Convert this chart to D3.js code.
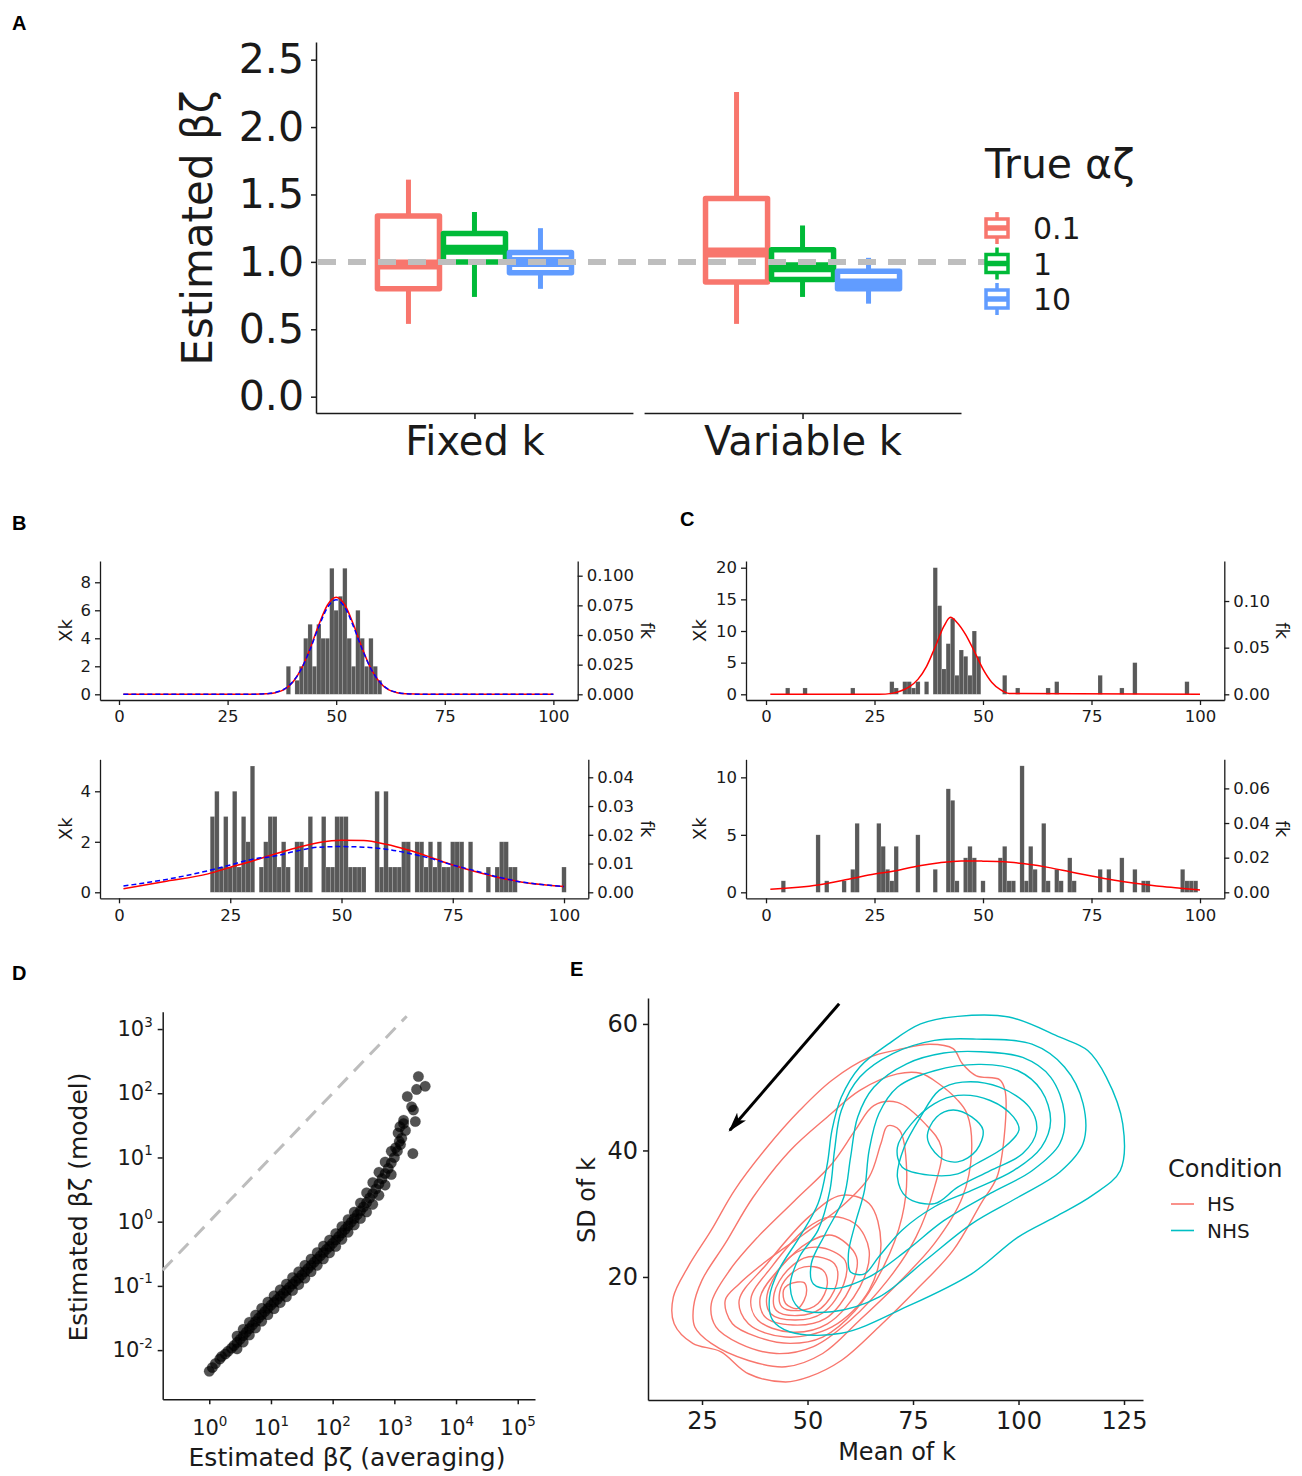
<!DOCTYPE html>
<html><head><meta charset="utf-8">
<script src="https://cdn.jsdelivr.net/npm/d3@7/dist/d3.min.js"></script>
<style>
html,body{margin:0;padding:0;background:#fff;}
svg{display:block;font-family:"DejaVu Sans",sans-serif;}
</style></head>
<body>
<svg id="fig" width="1302" height="1476" xmlns="http://www.w3.org/2000/svg"></svg>
<script>
// ================= DATA =================
// Panel A: boxplots
const boxCategories = ["Fixed k", "Variable k"];
const alphaGroups = ["0.1", "1", "10"];
const boxCategoryOf = ["Fixed k", "Fixed k", "Fixed k", "Variable k", "Variable k", "Variable k"];
const boxGroupOf = ["0.1", "1", "10", "0.1", "1", "10"];
const boxWhiskerLow  = [0.54, 0.74, 0.80, 0.54, 0.74, 0.69];
const boxQ1          = [0.80, 1.00, 0.92, 0.85, 0.87, 0.80];
const boxMedian      = [0.98, 1.09, 1.00, 1.07, 0.96, 0.84];
const boxQ3          = [1.34, 1.21, 1.07, 1.47, 1.09, 0.93];
const boxWhiskerHigh = [1.61, 1.37, 1.25, 2.26, 1.27, 1.03];
const boxYTicks = [0, 0.5, 1, 1.5, 2, 2.5];
const boxReference = 1.0;

// Panels B / C: histograms of Xk with fitted fk curves
const histXTicks = [0, 25, 50, 75, 100];
const bTopK      = [39, 41, 42, 43, 44, 45, 46, 47, 48, 49, 50, 51, 52, 53, 54, 55, 56, 57, 58, 59, 60];
const bTopCount  = [2, 1, 2, 4, 5, 2, 5, 4, 4, 9, 6, 7, 9, 4, 2, 6, 4, 2, 4, 2, 1];
const bTopCurveK = [1, 30, 34, 36, 38, 40, 42, 44, 46, 48, 50, 52, 54, 56, 58, 60, 62, 64, 66, 70, 100];
const bTopRedF   = [0, 0, 0.0004, 0.0014, 0.004, 0.0102, 0.0216, 0.0386, 0.0586, 0.0753, 0.0818, 0.0753, 0.0586, 0.0386, 0.0216, 0.0102, 0.004, 0.0014, 0.0004, 0, 0];
const bTopBlueF  = [0, 0, 0.0005, 0.0016, 0.0043, 0.0105, 0.0215, 0.038, 0.057, 0.0732, 0.0797, 0.0732, 0.057, 0.038, 0.0215, 0.0105, 0.0043, 0.0016, 0.0005, 0, 0];

const bBotK      = [21, 22, 23, 24, 25, 26, 27, 28, 29, 30, 32, 33, 34, 35, 36, 37, 38, 40, 41, 42, 43, 46, 47, 48, 49, 50, 51, 52, 53, 54, 55, 58, 59, 60, 61, 62, 63, 64, 65, 67, 68, 69, 70, 71, 72, 73, 74, 75, 76, 77, 79, 83, 85, 86, 87, 88, 89, 100];
const bBotCount  = [3, 4, 1, 3, 1, 4, 1, 3, 2, 5, 1, 2, 3, 3, 1, 2, 1, 2, 2, 1, 3, 3, 1, 1, 3, 3, 3, 1, 1, 1, 1, 4, 1, 4, 1, 1, 1, 2, 2, 2, 2, 1, 2, 1, 2, 1, 1, 2, 2, 2, 2, 1, 1, 2, 2, 1, 1, 1];
const bBotCurveK = [1, 10, 20, 25, 30, 35, 40, 45, 50, 55, 60, 65, 70, 75, 80, 85, 90, 95, 100];
const bBotRedF   = [0.0012, 0.0037, 0.0064, 0.0087, 0.0109, 0.0133, 0.0155, 0.0173, 0.0181, 0.018, 0.0167, 0.0147, 0.0122, 0.0095, 0.0072, 0.0052, 0.0037, 0.0027, 0.002];
const bBotBlueF  = [0.0022, 0.0043, 0.0075, 0.0095, 0.0115, 0.0126, 0.0144, 0.0157, 0.0159, 0.0157, 0.015, 0.0136, 0.0118, 0.0095, 0.0075, 0.0054, 0.0037, 0.0027, 0.002];

const cTopK      = [5, 9, 20, 29, 30, 32, 33, 34, 35, 37, 39, 40, 41, 42, 43, 44, 45, 46, 47, 48, 49, 55, 58, 65, 67, 77, 82, 85, 97];
const cTopCount  = [1, 1, 1, 2, 1, 2, 2, 1, 2, 2, 20, 14, 4, 8, 12, 3, 7, 6, 3, 10, 6, 3, 1, 1, 2, 3, 1, 5, 2];
const cTopCurveK = [1, 26, 29, 31, 33, 35, 37, 39, 41, 42.5, 44, 46, 48, 50, 52, 54, 56, 100];
const cTopRedF   = [0, 0, 0.001, 0.0035, 0.008, 0.016, 0.030, 0.051, 0.073, 0.0825, 0.077, 0.064, 0.046, 0.027, 0.013, 0.005, 0.001, 0];

const cBotK      = [4, 12, 14, 18, 20, 21, 26, 27, 28, 29, 30, 35, 39, 42, 43, 44, 46, 47, 48, 50, 54, 55, 56, 57, 59, 60, 61, 62, 64, 65, 67, 68, 70, 71, 77, 79, 82, 85, 87, 88, 96, 97, 98, 99];
const cBotCount  = [1, 5, 1, 1, 2, 6, 6, 4, 2, 1, 4, 5, 2, 9, 8, 1, 3, 4, 3, 1, 3, 4, 1, 1, 11, 1, 4, 2, 6, 1, 2, 1, 3, 1, 2, 2, 3, 2, 1, 1, 2, 1, 1, 1];
const cBotCurveK = [1, 12, 20, 25, 30, 35, 40, 45, 50, 55, 60, 65, 70, 75, 80, 85, 90, 95, 100];
const cBotRedF   = [0.0017, 0.0042, 0.0081, 0.0106, 0.0125, 0.0152, 0.0171, 0.0181, 0.018, 0.0177, 0.0163, 0.0144, 0.0119, 0.0094, 0.0071, 0.0052, 0.0037, 0.0025, 0.0013];

// Panel D: scatter, values as [log10(averaging), log10(model)]
const dScatterLog10 = [
  // sparse lower end
  [0.00,-2.33],[0.05,-2.27],[0.10,-2.21],[0.17,-2.14],[0.20,-2.10],[0.26,-2.06],[0.30,-2.02],[0.36,-1.97],[0.40,-1.93],
  // band centre
  [0.45,-1.88],[0.50,-1.83],[0.55,-1.775],[0.60,-1.72],[0.65,-1.665],[0.70,-1.61],[0.75,-1.555],[0.80,-1.50],
  [0.85,-1.45],[0.90,-1.40],[0.95,-1.35],[1.00,-1.30],[1.05,-1.255],[1.10,-1.21],[1.15,-1.16],[1.20,-1.115],
  [1.25,-1.07],[1.30,-1.02],[1.35,-0.97],[1.40,-0.925],[1.45,-0.88],[1.50,-0.83],[1.55,-0.78],[1.60,-0.73],
  [1.65,-0.68],[1.70,-0.63],[1.75,-0.58],[1.80,-0.53],[1.85,-0.48],[1.90,-0.43],[1.95,-0.385],[2.00,-0.337],
  [2.05,-0.285],[2.10,-0.23],[2.15,-0.175],[2.20,-0.12],[2.25,-0.065],[2.30,-0.01],[2.35,0.05],[2.40,0.11],
  [2.45,0.17],[2.50,0.23],[2.55,0.30],[2.60,0.37],[2.65,0.44],[2.70,0.51],[2.75,0.59],[2.80,0.67],
  [2.85,0.75],[2.90,0.83],[2.95,0.915],[3.00,1.00],[3.05,1.10],[3.10,1.20],
  // band upper edge
  [0.45,-1.78],[0.55,-1.675],[0.65,-1.565],[0.75,-1.455],[0.85,-1.35],[0.95,-1.25],[1.05,-1.155],[1.15,-1.06],
  [1.25,-0.97],[1.35,-0.87],[1.45,-0.78],[1.55,-0.68],[1.65,-0.58],[1.75,-0.48],[1.85,-0.38],[1.95,-0.285],
  [2.05,-0.185],[2.15,-0.075],[2.25,0.035],[2.35,0.15],[2.45,0.29],[2.55,0.45],[2.65,0.61],[2.75,0.77],
  [2.85,0.93],[2.95,1.095],
  // band lower edge
  [0.45,-1.98],[0.55,-1.875],[0.65,-1.765],[0.75,-1.655],[0.85,-1.55],[0.95,-1.45],[1.05,-1.355],[1.15,-1.26],
  [1.25,-1.17],[1.35,-1.07],[1.45,-0.98],[1.55,-0.88],[1.65,-0.78],[1.75,-0.68],[1.85,-0.58],[1.95,-0.485],
  [2.05,-0.385],[2.15,-0.275],[2.25,-0.165],[2.35,-0.05],[2.45,0.05],[2.55,0.15],[2.65,0.27],[2.75,0.41],
  [2.85,0.57],[2.95,0.735],
  // upper tail and outliers
  [3.02,1.15],[3.06,1.38],[3.08,1.25],[3.09,1.48],[3.12,1.30],[3.15,1.53],[3.15,1.58],[3.18,1.42],
  [3.21,1.95],[3.28,1.79],[3.30,1.06],[3.31,1.74],[3.34,1.56],[3.36,2.06],[3.39,2.26],[3.50,2.11]
];
const dXTicks = [1, 10, 100, 1000, 10000, 100000];
const dYTicks = [0.01, 0.1, 1, 10, 100, 1000];
const dIdentityRange = [0.176, 1585];

// Panel E: density contour rings as [mean of k, SD of k]
const eConditions = ["HS", "NHS"];
const eXTicks = [25, 50, 75, 100, 125];
const eYTicks = [20, 40, 60];
const hsContours = [
  [[18.2,16.8],[21.7,21.6],[27.2,27.4],[32.7,33.7],[40.4,40.5],[48.1,46.3],[55.8,51.1],[64.6,54.7],[71.3,55.9],[79.0,56.8],[84.5,56.1],[86.7,53.7],[90.0,51.8],[95.5,51.2],[96.8,49.5],[96.6,42.1],[94.9,35.8],[91.1,31.6],[84.5,24.2],[75.7,17.9],[66.9,12.1],[58.0,6.8],[50.3,4.2],[44.8,3.4],[36.0,4.7],[29.4,8.2],[22.8,9.5],[18.4,12.6]],
  [[23.0,15.3],[25.0,19.5],[30.5,25.3],[37.1,32.6],[45.9,40.0],[54.7,45.3],[62.4,49.5],[71.3,52.1],[76.8,52.2],[81.2,50.5],[85.5,48.0],[87.8,45.8],[88.9,40.0],[86.7,32.6],[80.1,25.3],[71.3,18.9],[62.4,13.2],[53.6,7.9],[44.8,5.8],[36.0,6.8],[27.2,9.5],[23.3,12.1]],
  [[27.2,15.8],[31.6,21.1],[38.2,26.3],[47.0,32.1],[55.8,37.9],[61.3,43.2],[65.7,47.1],[71.3,47.6],[77.9,44.2],[81.7,40.5],[80.1,34.2],[75.7,26.3],[69.0,19.5],[60.2,13.2],[51.4,9.0],[42.6,7.9],[33.8,9.5],[28.3,12.1]],
  [[30.5,16.3],[33.8,18.9],[40.4,22.6],[49.2,26.8],[58.0,31.1],[64.6,35.8],[67.4,41.1],[69.0,43.9],[71.8,43.2],[73.5,36.8],[72.4,29.5],[68.0,21.6],[61.3,14.7],[53.6,10.5],[45.9,9.5],[38.2,10.5],[32.2,12.6]],
  [[33.8,16.3],[40.4,22.1],[50.3,29.5],[58.0,32.9],[64.6,31.6],[67.4,25.3],[64.6,17.9],[55.8,12.1],[44.8,10.5],[36.0,12.6]],
  [[36.6,16.6],[41.5,21.6],[49.2,27.4],[55.3,29.5],[61.3,28.4],[64.6,24.2],[62.4,18.4],[54.7,12.6],[45.9,11.3],[38.2,13.2]],
  [[38.8,16.8],[43.7,21.6],[50.3,25.5],[55.8,26.6],[61.6,23.2],[60.2,18.4],[54.2,13.4],[46.5,12.4],[39.9,13.7]],
  [[40.4,17.1],[45.9,23.2],[52.5,24.7],[58.9,22.6],[58.6,18.9],[53.6,14.3],[47.0,13.2],[41.3,14.2]],
  [[42.1,17.4],[45.3,21.1],[50.3,23.2],[56.4,22.1],[56.9,18.9],[53.1,15.0],[47.6,13.9],[42.6,14.7]],
  [[43.4,17.6],[45.3,20.0],[49.2,21.6],[53.6,21.1],[54.7,18.9],[52.5,15.8],[48.1,14.7],[43.9,15.3]],
  [[44.3,17.9],[45.3,18.7],[47.6,19.2],[49.2,19.1],[49.8,17.9],[49.2,16.3],[47.6,15.0],[44.8,15.8]]
];
const nhsContours = [
  [[85.6,61.2],[97.7,61.1],[109.8,57.9],[116.4,55.8],[120.8,51.6],[124.7,44.2],[124.1,36.8],[117.5,32.9],[108.7,29.5],[99.9,26.3],[88.9,20.5],[73.5,15.3],[58.0,11.1],[45.9,11.3],[41.7,13.2],[41.0,16.8],[43.2,21.1],[48.1,26.3],[52.5,31.6],[54.7,37.9],[55.8,43.2],[58.0,48.4],[62.4,53.2],[69.1,56.8],[76.8,60.0]],
  [[90.0,57.6],[103.2,56.8],[110.9,53.2],[115.3,47.4],[115.3,41.1],[109.8,36.6],[99.9,32.6],[88.9,28.4],[77.9,22.6],[66.9,16.8],[55.8,14.5],[48.1,15.0],[45.9,18.4],[48.1,23.2],[52.5,27.4],[55.3,33.7],[56.4,40.0],[58.0,46.3],[62.4,51.6],[70.2,55.3],[80.1,57.4]],
  [[91.1,55.6],[101.0,54.7],[107.6,51.6],[110.9,45.8],[109.8,41.1],[103.2,36.8],[93.3,33.2],[82.3,28.9],[73.5,24.2],[64.6,20.0],[56.9,18.2],[51.4,18.9],[50.9,22.1],[54.2,26.8],[58.6,32.6],[60.2,38.9],[61.9,45.3],[65.7,50.0],[73.5,53.7],[82.3,55.4]],
  [[91.1,53.6],[99.9,52.6],[105.4,49.5],[107.6,44.7],[105.4,40.5],[98.8,36.8],[88.9,33.7],[80.1,31.1],[72.4,27.4],[66.9,23.2],[63.5,20.5],[60.2,20.8],[59.7,23.7],[61.3,28.4],[63.5,33.7],[64.6,40.0],[66.9,45.8],[71.3,50.0],[80.1,52.6]],
  [[86.7,50.8],[95.5,50.0],[102.6,46.8],[104.3,43.2],[101.0,39.5],[93.3,36.8],[85.6,34.2],[80.1,31.6],[73.5,32.6],[71.3,35.8],[72.9,40.5],[76.8,45.3],[81.2,49.5]],
  [[85.6,48.7],[93.3,47.9],[98.8,45.3],[100.1,43.2],[96.6,40.5],[90.0,37.9],[85.6,36.3],[79.0,36.1],[72.4,37.4],[71.3,40.5],[74.6,44.2],[80.1,47.4]],
  [[84.5,46.4],[88.9,45.3],[91.6,43.2],[90.0,40.0],[85.6,38.2],[81.2,39.0],[78.4,42.1],[80.6,45.3]]
];
const eArrowFrom = [57.5, 63.2];
const eArrowTo = [31.6, 43.2];

// ================= DRAWING =================
const svg = d3.select("#fig");
const FONT = "DejaVu Sans, sans-serif";
const INK = "#1a1a1a";

function styleAxis(g, fs, width) {
  g.attr("font-family", FONT).attr("font-size", fs);
  g.select(".domain").attr("stroke", INK).attr("stroke-width", width);
  g.selectAll(".tick line").attr("stroke", INK).attr("stroke-width", width);
  g.selectAll(".tick text").attr("fill", INK);
}
function panelLetter(t, x, y) {
  svg.append("text").attr("x", x).attr("y", y).text(t)
    .attr("font-family", "Liberation Sans, Arial, sans-serif").attr("font-weight", "bold")
    .attr("font-size", 20).attr("fill", "#000");
}

// ---------- Panel A ----------
(function () {
  const yA = d3.scaleLinear().domain([-0.121, 2.631]).range([413, 42]);
  const facetA = d3.scaleBand().domain(boxCategories).range([316, 961]).paddingInner(0.034);
  const dodgeA = d3.scaleBand().domain(alphaGroups).range([-99, 99]).paddingInner(0.06).paddingOuter(0.03);
  const colorA = d3.scaleOrdinal().domain(alphaGroups).range(["#F8766D", "#00BA38", "#619CFF"]);
  const gA = svg.append("g");

  const axL = gA.append("g").attr("transform", "translate(316,0)")
    .call(d3.axisLeft(yA).tickValues(boxYTicks).tickFormat(d3.format(".1f")).tickSize(5).tickSizeOuter(0).tickPadding(7));
  styleAxis(axL, 41, 1.5);

  boxCategories.forEach(cat => {
    const x0 = facetA(cat), x1 = x0 + facetA.bandwidth();
    const s = d3.scalePoint().domain([cat]).range([x0, x1]).padding(0.5);
    const ax = gA.append("g").attr("transform", "translate(0,413)")
      .call(d3.axisBottom(s).tickSize(6).tickSizeOuter(0).tickPadding(8));
    styleAxis(ax, 40, 1.5);
  });

  gA.append("text").attr("transform", "translate(212,228) rotate(-90)")
    .attr("text-anchor", "middle").attr("font-size", 42).attr("fill", INK).text("Estimated βζ");

  const bw = dodgeA.bandwidth();
  boxCategoryOf.forEach((cat, i) => {
    const grp = boxGroupOf[i];
    const cx = facetA(cat) + facetA.bandwidth() / 2 + dodgeA(grp) + bw / 2;
    const col = colorA(grp);
    const g = gA.append("g");
    g.append("line").attr("x1", cx).attr("x2", cx).attr("y1", yA(boxWhiskerHigh[i])).attr("y2", yA(boxQ3[i]))
      .attr("stroke", col).attr("stroke-width", 5);
    g.append("line").attr("x1", cx).attr("x2", cx).attr("y1", yA(boxQ1[i])).attr("y2", yA(boxWhiskerLow[i]))
      .attr("stroke", col).attr("stroke-width", 5);
    g.append("rect").attr("x", cx - bw / 2).attr("y", yA(boxQ3[i])).attr("width", bw)
      .attr("height", yA(boxQ1[i]) - yA(boxQ3[i])).attr("fill", "#fff")
      .attr("stroke", col).attr("stroke-width", 5.5).attr("stroke-linejoin", "round");
    g.append("line").attr("x1", cx - bw / 2).attr("x2", cx + bw / 2)
      .attr("y1", yA(boxMedian[i])).attr("y2", yA(boxMedian[i]))
      .attr("stroke", col).attr("stroke-width", 10);
  });

  gA.append("line").attr("x1", 318).attr("x2", 992)
    .attr("y1", yA(boxReference)).attr("y2", yA(boxReference))
    .attr("stroke", "#BEBEBE").attr("stroke-width", 6).attr("stroke-dasharray", "18,12");

  // legend
  const leg = gA.append("g").attr("font-family", FONT);
  leg.append("text").attr("x", 985).attr("y", 178).attr("font-size", 41).attr("fill", INK).text("True αζ");
  alphaGroups.forEach((gn, i) => {
    const cy = 228 + i * 35.5, cx = 997, col = colorA(gn);
    leg.append("line").attr("x1", cx).attr("x2", cx).attr("y1", cy - 16).attr("y2", cy + 16)
      .attr("stroke", col).attr("stroke-width", 3.5);
    leg.append("rect").attr("x", cx - 11).attr("y", cy - 9).attr("width", 22).attr("height", 18)
      .attr("fill", "#fff").attr("stroke", col).attr("stroke-width", 3.5);
    leg.append("line").attr("x1", cx - 11).attr("x2", cx + 11).attr("y1", cy).attr("y2", cy)
      .attr("stroke", col).attr("stroke-width", 5.5);
    leg.append("text").attr("x", 1033).attr("y", cy + 11).attr("font-size", 30).attr("fill", INK).text(gn);
  });
})();

// ---------- Panels B / C ----------
function histPanel(o) {
  const g = svg.append("g");
  const x = d3.scaleLinear().domain(o.xDomain).range([o.left, o.right]);
  const yL = d3.scaleLinear().domain(o.countDomain).range([o.bottom, o.top]);
  const yR = d3.scaleLinear().domain(o.densDomain).range([o.bottom, o.top]);
  const bars = o.k.map((k, i) => ({ k: k, c: o.counts[i] }));
  g.selectAll("rect").data(bars).join("rect")
    .attr("x", d => x(d.k - 0.5)).attr("width", x(1) - x(0))
    .attr("y", d => yL(d.c)).attr("height", d => yL(0) - yL(d.c))
    .attr("fill", "#595959").attr("stroke", "#ffffff").attr("stroke-opacity", 0.25).attr("stroke-width", 0.5);
  const line = d3.line().x(d => x(d[0])).y(d => yR(d[1])).curve(d3.curveMonotoneX);
  o.curves.forEach(c => {
    g.append("path").datum(c.k.map((k, i) => [k, c.f[i]])).attr("d", line)
      .attr("fill", "none").attr("stroke", c.color).attr("stroke-width", 1.5)
      .attr("stroke-dasharray", c.dash || null);
  });
  const axB = g.append("g").attr("transform", `translate(0,${o.bottom})`)
    .call(d3.axisBottom(x).tickValues(histXTicks).tickFormat(d3.format("d")).tickSize(5).tickSizeOuter(0).tickPadding(5.5));
  styleAxis(axB, 16.5, 1.3);
  const axLft = g.append("g").attr("transform", `translate(${o.left},0)`)
    .call(d3.axisLeft(yL).tickValues(o.countTicks).tickFormat(d3.format("d")).tickSize(5).tickSizeOuter(0).tickPadding(4));
  styleAxis(axLft, 16.5, 1.3);
  const axR = g.append("g").attr("transform", `translate(${o.right},0)`)
    .call(d3.axisRight(yR).tickValues(o.densTicks).tickFormat(d3.format(o.densFormat)).tickSize(5).tickSizeOuter(0).tickPadding(4));
  styleAxis(axR, 16.5, 1.3);
  const cy = (o.top + o.bottom) / 2;
  g.append("text").attr("transform", `translate(${o.xkX},${cy}) rotate(-90)`)
    .attr("text-anchor", "middle").attr("dominant-baseline", "central")
    .attr("font-size", 18).attr("fill", INK).text("Xk");
  g.append("text").attr("transform", `translate(${o.fkX},${cy}) rotate(90)`)
    .attr("text-anchor", "middle").attr("dominant-baseline", "central")
    .attr("font-size", 18).attr("fill", INK).text("fk");
}

histPanel({
  left: 100, right: 577.7, top: 561, bottom: 700,
  xDomain: [-4.375, 105.6], countDomain: [-0.407, 9.52], densDomain: [-0.0048, 0.1124],
  k: bTopK, counts: bTopCount, countTicks: [0, 2, 4, 6, 8],
  densTicks: [0, 0.025, 0.05, 0.075, 0.1], densFormat: ".3f",
  curves: [{ k: bTopCurveK, f: bTopRedF, color: "#FF0000" },
           { k: bTopCurveK, f: bTopBlueF, color: "#0000FF", dash: "5,3" }],
  xkX: 65, fkX: 647
});
histPanel({
  left: 100, right: 588.3, top: 759.3, bottom: 898.3,
  xDomain: [-4.27, 105.46], countDomain: [-0.238, 5.267], densDomain: [-0.00209, 0.04626],
  k: bBotK, counts: bBotCount, countTicks: [0, 2, 4],
  densTicks: [0, 0.01, 0.02, 0.03, 0.04], densFormat: ".2f",
  curves: [{ k: bBotCurveK, f: bBotRedF, color: "#FF0000" },
           { k: bBotCurveK, f: bBotBlueF, color: "#0000FF", dash: "5,3" }],
  xkX: 65, fkX: 647
});
histPanel({
  left: 746, right: 1224.3, top: 561, bottom: 700,
  xDomain: [-4.61, 105.6], countDomain: [-0.9, 21.06], densDomain: [-0.0061, 0.1429],
  k: cTopK, counts: cTopCount, countTicks: [0, 5, 10, 15, 20],
  densTicks: [0, 0.05, 0.1], densFormat: ".2f",
  curves: [{ k: cTopCurveK, f: cTopRedF, color: "#FF0000" }],
  xkX: 699, fkX: 1282
});
histPanel({
  left: 746, right: 1224.3, top: 759.3, bottom: 898.3,
  xDomain: [-4.61, 105.6], countDomain: [-0.52, 11.57], densDomain: [-0.00346, 0.0768],
  k: cBotK, counts: cBotCount, countTicks: [0, 5, 10],
  densTicks: [0, 0.02, 0.04, 0.06], densFormat: ".2f",
  curves: [{ k: cBotCurveK, f: cBotRedF, color: "#FF0000" }],
  xkX: 699, fkX: 1282
});

// ---------- Panel D ----------
(function () {
  const g = svg.append("g");
  const xD = d3.scaleLog().domain([Math.pow(10, -0.755), Math.pow(10, 5.28)]).range([162.7, 535]);
  const yD = d3.scaleLog().domain([Math.pow(10, -2.766), Math.pow(10, 3.27)]).range([1399.3, 1011.7]);
  function sup(axisG) {
    axisG.selectAll(".tick text").each(function (d) {
      const e = Math.round(Math.log10(d));
      const t = d3.select(this);
      t.text(null);
      t.append("tspan").text("10");
      t.append("tspan").attr("dy", "-0.72em").attr("font-size", "0.64em").text(String(e));
    });
  }
  const ax = g.append("g").attr("transform", "translate(0,1399.3)")
    .call(d3.axisBottom(xD).tickValues(dXTicks).tickSize(5).tickSizeOuter(0).tickPadding(16));
  styleAxis(ax, 21, 1.5); sup(ax);
  const ay = g.append("g").attr("transform", "translate(162.7,0)")
    .call(d3.axisLeft(yD).tickValues(dYTicks).tickSize(5).tickSizeOuter(0).tickPadding(5));
  styleAxis(ay, 21, 1.5); sup(ay);

  g.append("line").attr("x1", xD(dIdentityRange[0])).attr("y1", yD(dIdentityRange[0]))
    .attr("x2", xD(dIdentityRange[1])).attr("y2", yD(dIdentityRange[1]))
    .attr("stroke", "#BDBDBD").attr("stroke-width", 3).attr("stroke-dasharray", "14,9");

  g.selectAll("circle").data(dScatterLog10).join("circle")
    .attr("cx", d => xD(Math.pow(10, d[0]))).attr("cy", d => yD(Math.pow(10, d[1])))
    .attr("r", 5.3).attr("fill", "#000").attr("fill-opacity", 0.68)
    .attr("stroke", "#000").attr("stroke-opacity", 0.12).attr("stroke-width", 1);

  g.append("text").attr("x", 347).attr("y", 1466).attr("text-anchor", "middle")
    .attr("font-size", 25).attr("fill", INK).text("Estimated βζ (averaging)");
  g.append("text").attr("transform", "translate(78,1207) rotate(-90)").attr("text-anchor", "middle")
    .attr("dominant-baseline", "central").attr("font-size", 25).attr("fill", INK).text("Estimated βζ (model)");
})();

// ---------- Panel E ----------
(function () {
  const g = svg.append("g");
  const xE = d3.scaleLinear().domain([12.2, 129.5]).range([648, 1143]);
  const yE = d3.scaleLinear().domain([0.55, 64.1]).range([1400, 998]);
  const colorE = d3.scaleOrdinal().domain(eConditions).range(["#F8766D", "#00BFC4"]);
  const lineE = d3.line().x(d => xE(d[0])).y(d => yE(d[1])).curve(d3.curveCatmullRomClosed.alpha(0.5));

  hsContours.forEach(r => g.append("path").attr("d", lineE(r)).attr("fill", "none")
    .attr("stroke", colorE("HS")).attr("stroke-width", 1.4));
  nhsContours.forEach(r => g.append("path").attr("d", lineE(r)).attr("fill", "none")
    .attr("stroke", colorE("NHS")).attr("stroke-width", 1.4));

  const ax = g.append("g").attr("transform", "translate(0,1400)")
    .call(d3.axisBottom(xE).tickValues(eXTicks).tickSize(5).tickSizeOuter(0).tickPadding(7));
  styleAxis(ax, 24, 1.5);
  const ay = g.append("g").attr("transform", "translate(648,0)")
    .call(d3.axisLeft(yE).tickValues(eYTicks).tickSize(5).tickSizeOuter(0).tickPadding(5));
  styleAxis(ay, 24, 1.5);

  g.append("text").attr("x", 897).attr("y", 1460).attr("text-anchor", "middle")
    .attr("font-size", 24).attr("fill", INK).text("Mean of k");
  g.append("text").attr("transform", "translate(587,1200) rotate(-90)").attr("text-anchor", "middle")
    .attr("dominant-baseline", "central").attr("font-size", 24).attr("fill", INK).text("SD of k");

  // arrow
  const defs = svg.append("defs");
  defs.append("marker").attr("id", "arrowE").attr("viewBox", "0 0 20 12")
    .attr("refX", 18).attr("refY", 6).attr("markerWidth", 20).attr("markerHeight", 12)
    .attr("markerUnits", "userSpaceOnUse").attr("orient", "auto")
    .append("path").attr("d", "M0,0 L20,6 L0,12 L5,6 Z").attr("fill", "#000");
  g.append("line").attr("x1", xE(eArrowFrom[0])).attr("y1", yE(eArrowFrom[1]))
    .attr("x2", xE(eArrowTo[0])).attr("y2", yE(eArrowTo[1]))
    .attr("stroke", "#000").attr("stroke-width", 3).attr("marker-end", "url(#arrowE)");

  // legend
  g.append("text").attr("x", 1168).attr("y", 1177).attr("font-size", 24).attr("fill", INK).text("Condition");
  eConditions.forEach((c, i) => {
    const cy = 1204 + i * 26.5;
    g.append("line").attr("x1", 1171).attr("x2", 1194).attr("y1", cy).attr("y2", cy)
      .attr("stroke", colorE(c)).attr("stroke-width", 1.6);
    g.append("text").attr("x", 1207).attr("y", cy + 7).attr("font-size", 20).attr("fill", INK).text(c);
  });
})();

panelLetter("A", 12, 30);
panelLetter("B", 12, 530);
panelLetter("C", 680, 526);
panelLetter("D", 12, 980);
panelLetter("E", 570, 976);
</script>
</body></html>
